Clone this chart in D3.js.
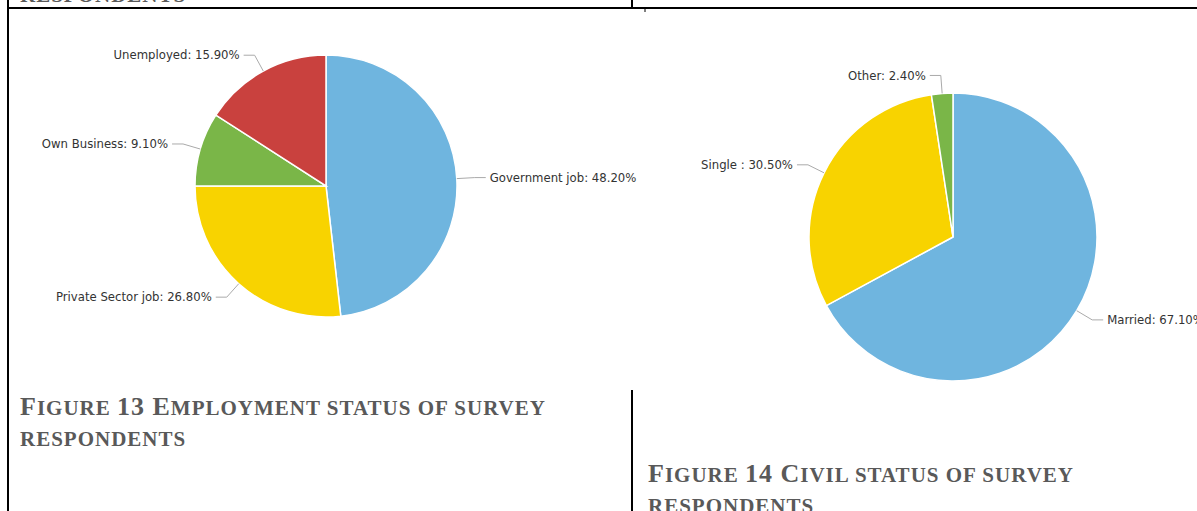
<!DOCTYPE html>
<html>
<head>
<meta charset="utf-8">
<script src="https://cdn.jsdelivr.net/npm/d3@7"></script>
<style>
  body { margin: 0; background: #fff; }
  svg { display: block; }
</style>
</head>
<body>
<div id="chart"></div>
<script>
// figure 13 - employment status
var empLabels = ["Government job", "Private Sector job", "Own Business", "Unemployed"];
var empValues = [48.2, 26.8, 9.1, 15.9];
var empColors = ["#6fb5df", "#f8d300", "#7ab648", "#c9413e"];

// figure 14 - civil status
var civLabels = ["Married", "Single ", "Other"];
var civValues = [67.1, 30.5, 2.4];
var civColors = ["#6fb5df", "#f8d300", "#7ab648"];

var captions = [
  { lines: ["Figure 13 Employment status of survey", "respondents"], x: 20, y: 415 },
  { lines: ["Figure 14 Civil status of survey", "respondents"], x: 648, y: 482 }
];

const width = 1197;
const height = 511;

var svg = d3.select("#chart").append("svg")
    .attr("width", width)
    .attr("height", height);

svg.append("rect").attr("width", width).attr("height", height).attr("fill", "#fff");

// table borders of the document page
var borders = [
  [8, 0, 8, height],
  [8, 8, width, 8],
  [632, 0, 632, 8],
  [632, 390, 632, height],
  [645, 8, 645, 12]
];
svg.selectAll("line.border")
    .data(borders)
    .enter()
    .append("line")
    .attr("class", "border")
    .attr("x1", d => d[0]).attr("y1", d => d[1])
    .attr("x2", d => d[2]).attr("y2", d => d[3])
    .attr("stroke", "#000")
    .attr("stroke-width", function(d, i) { return i == 4 ? 1 : 2; });

function drawPie(labels, values, colors, cx, cy, r) {
    var g = svg.append("g").attr("transform", "translate(" + cx + "," + cy + ")");
    var pie = d3.pie().sort(null).value(d => d);
    var arc = d3.arc().innerRadius(0).outerRadius(r);
    var arcs = pie(values);

    g.selectAll("path")
        .data(arcs)
        .enter()
        .append("path")
        .attr("d", arc)
        .attr("fill", (d, i) => colors[i])
        .attr("stroke", "#fff")
        .attr("stroke-width", 1.5);

    arcs.forEach(function(d, i) {
        var a = (d.startAngle + d.endAngle) / 2;
        var sx = Math.sin(a), sy = -Math.cos(a);
        var p0 = [sx * r, sy * r];
        var p1 = [sx * (r + 18), sy * (r + 18)];
        var right = sx >= 0;
        var p2 = [p1[0] + (right ? 11 : -11), p1[1]];
        g.append("polyline")
            .attr("points", [p0, p1, p2].map(p => p.join(",")).join(" "))
            .attr("fill", "none")
            .attr("stroke", "#aaa")
            .attr("stroke-width", 1);
        g.append("text")
            .attr("x", p2[0] + (right ? 4 : -4))
            .attr("y", p2[1])
            .attr("dy", "0.35em")
            .attr("text-anchor", right ? "start" : "end")
            .attr("font-family", "DejaVu Sans, Verdana, sans-serif")
            .attr("font-size", 11.7)
            .attr("fill", "#333")
            .text(labels[i] + ": " + values[i].toFixed(2) + "%");
    });
}

drawPie(empLabels, empValues, empColors, 326, 186, 131);
drawPie(civLabels, civValues, civColors, 953, 237, 144);

// word-style small caps captions
function smallCaps(textSel, str, big, small) {
    var chunks = [];
    for (var c of str) {
        var isSmall = c !== c.toUpperCase();
        var size = isSmall ? small : big;
        if (c === " ") size = chunks.length ? chunks[chunks.length - 1].size : big;
        if (chunks.length && chunks[chunks.length - 1].size === size) {
            chunks[chunks.length - 1].t += c.toUpperCase();
        } else {
            chunks.push({ t: c.toUpperCase(), size: size });
        }
    }
    textSel.selectAll("tspan")
        .data(chunks)
        .enter()
        .append("tspan")
        .attr("font-size", d => d.size)
        .text(d => d.t);
}

function captionText(str, x, y) {
    var t = svg.append("text")
        .attr("x", x)
        .attr("y", y)
        .attr("font-family", "Liberation Serif, Times New Roman, serif")
        .attr("font-weight", "bold")
        .attr("fill", "#595959")
        .attr("letter-spacing", 1)
        .style("white-space", "pre");
    smallCaps(t, str, 26, 21);
}

captions.forEach(function(c) {
    c.lines.forEach(function(l, j) {
        captionText(l, c.x, c.y + j * 31);
    });
});

// cut-off caption of the previous figure
captionText("respondents", 20, 2);
</script>
</body>
</html>
